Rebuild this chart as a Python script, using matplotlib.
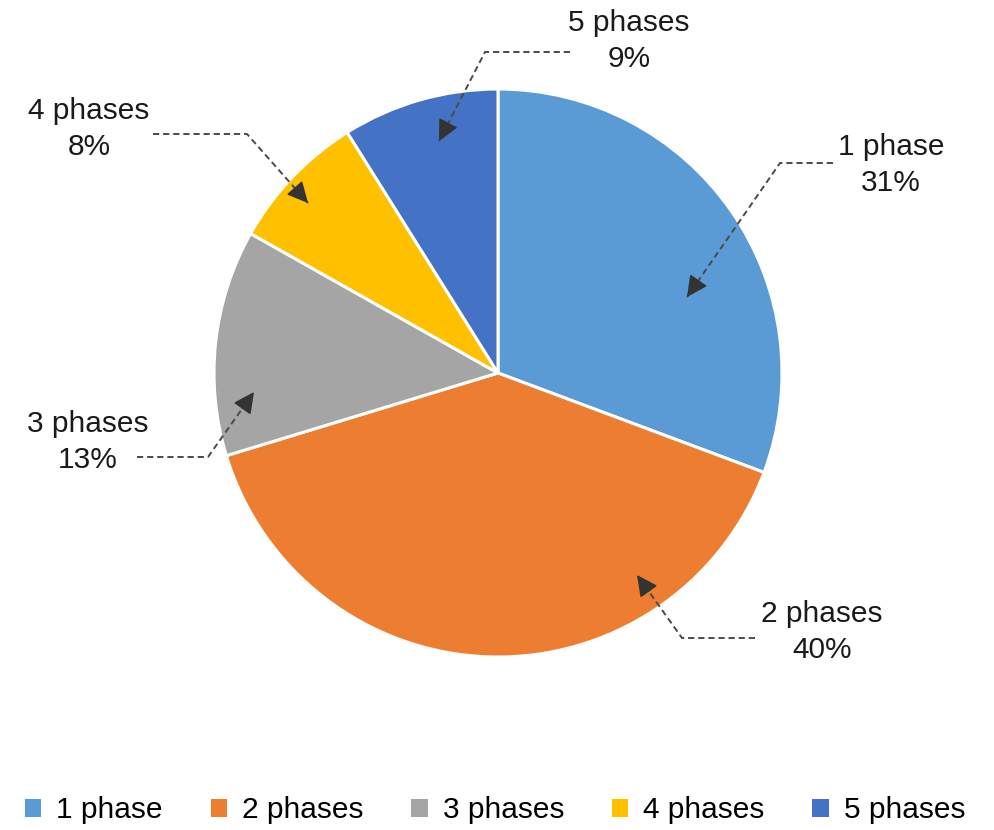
import matplotlib.pyplot as plt
import numpy as np
from matplotlib.patches import Patch

plt.rcParams["font.family"] = ["Liberation Sans", "DejaVu Sans"]

LABELS = ["1 phase", "2 phases", "3 phases", "4 phases", "5 phases"]
SHARES = [31, 40, 13, 8, 9]
COLORS = ["#5B9BD5", "#ED7D31", "#A5A5A5", "#FFC000", "#4472C4"]

W, H = 994, 830
CENTER = (498, H - 373)
RADIUS = 284

# label layout in pixel coords (y from top): text centre, line end, bend, arrow tip
CALLOUTS = {
    "1 phase": dict(text=(891, 165), start=(833, 163), bend=(780, 163), tip=(687, 297)),
    "2 phases": dict(text=(822, 632), start=(755, 638), bend=(682, 638), tip=(637, 575)),
    "3 phases": dict(text=(88, 442), start=(137, 457), bend=(208, 457), tip=(254, 392)),
    "4 phases": dict(text=(89, 129), start=(153, 134), bend=(247, 134), tip=(308, 203)),
    "5 phases": dict(text=(629, 41), start=(570, 52), bend=(485, 52), tip=(439, 141)),
}

fig = plt.figure(figsize=(W / 100, H / 100), dpi=100)
ax = fig.add_axes([0, 0, 1, 1])

ax.pie(
    SHARES,
    colors=COLORS,
    startangle=90,
    counterclock=False,
    center=CENTER,
    radius=RADIUS,
    wedgeprops={"edgecolor": "white", "linewidth": 2.2},
    frame=True,
)
ax.set_xlim(0, W)
ax.set_ylim(0, H)
ax.set_aspect("equal")
ax.axis("off")

for label, share in zip(LABELS, SHARES):
    c = CALLOUTS[label]
    tx, ty = c["text"]
    ax.text(tx, H - ty, f"{label}\n{share}%", ha="center", va="center",
            fontsize=21.5, linespacing=1.32, color="#1a1a1a")
    xs = [c["start"][0], c["bend"][0], c["tip"][0]]
    ys = [H - c["start"][1], H - c["bend"][1], H - c["tip"][1]]
    ax.plot(xs, ys, color="#4a4a4a", lw=1.4, linestyle=(0, (3.2, 2.0)), zorder=4)
    # short solid segment carrying the arrow head
    dx = c["tip"][0] - c["bend"][0]
    dy = c["tip"][1] - c["bend"][1]
    n = np.hypot(dx, dy)
    back = (c["tip"][0] - dx / n * 20, H - (c["tip"][1] - dy / n * 20))
    ax.annotate("", xy=(c["tip"][0], H - c["tip"][1]), xytext=back,
                arrowprops=dict(arrowstyle="-|>", color="#333333", lw=1.2,
                                mutation_scale=32, shrinkA=0, shrinkB=0),
                zorder=5)

handles = [Patch(facecolor=col, edgecolor="none") for col in COLORS]
fig.legend(handles, LABELS, loc="center", bbox_to_anchor=(0.498, 0.024), ncol=5,
           frameon=False, fontsize=21.5, handlelength=0.55, handleheight=0.55,
           handletextpad=0.5, columnspacing=1.6, borderpad=0.1)

fig.savefig("out.png", dpi=100)
